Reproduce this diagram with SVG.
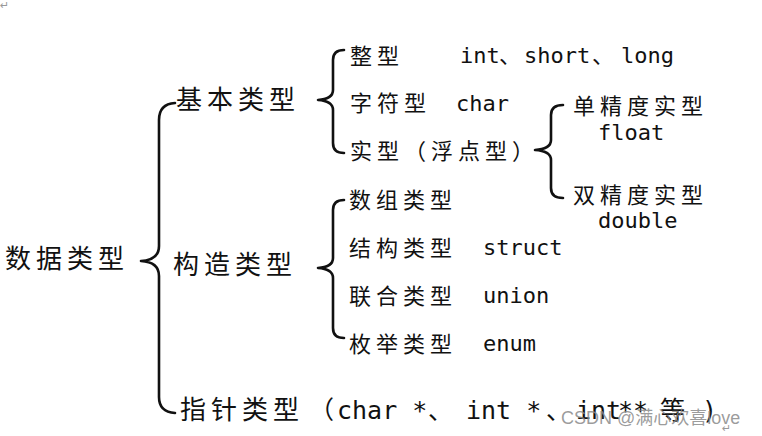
<svg xmlns="http://www.w3.org/2000/svg" width="762" height="436" viewBox="0 0 762 436">
<style>
.cn1{font-family:"Noto Sans CJK SC","Noto Sans",sans-serif;font-size:26px;letter-spacing:5px;fill:#111}
.cn2{font-family:"Noto Sans CJK SC","Noto Sans",sans-serif;font-size:22px;letter-spacing:5px;fill:#111}
.cnp{font-family:"Noto Sans CJK SC",sans-serif;font-size:22px;fill:#111}
.mono{font-family:"DejaVu Sans Mono","Noto Sans CJK SC",monospace;font-size:22px;fill:#111}
.mono25{font-family:"DejaVu Sans Mono","Noto Sans CJK SC",monospace;font-size:25px;fill:#111}
.cnb{font-family:"Noto Sans CJK SC",sans-serif;font-size:25px;fill:#111}
.brace{fill:none;stroke:#111;stroke-width:2.6;stroke-linecap:round;stroke-linejoin:round}
.mark{font-family:"DejaVu Sans",sans-serif;font-size:11px;fill:#999}
.wm{font-family:"Liberation Sans","Noto Sans CJK SC",sans-serif;font-size:18px;fill:#8a8a8a;fill-opacity:0.85}
</style>
<text class="mark" x="0" y="9">↵</text>
<g id="connectors">
<path class="brace" stroke-width="3" d="M175,103 Q159,104 159,120 L159,246 Q159,260 141,261 Q159,262 159,276 L159,397 Q159,412 175,413"/>
<path class="brace" d="M344,50 Q333,50 333,60 L333,90 Q333,99 318,100 Q333,101 333,110 L333,143 Q333,153 344,153"/>
<path class="brace" d="M563,105 Q551,105 551,115 L551,140 Q551,149 535,150 Q551,151 551,160 L551,188 Q551,198 563,198"/>
<path class="brace" d="M344,200 Q333,200 333,210 L333,258 Q333,267 318,268 Q333,269 333,278 L333,328 Q333,338 344,338"/>
</g>
<g id="root"><text class="cn1" x="5" y="268">数据类型</text></g>
<g id="basic"><text class="cn1" x="176" y="109">基本类型</text></g>
<g id="construct"><text class="cn1" x="173" y="274">构造类型</text></g>
<g id="pointer">
<text class="cn1" x="180" y="419">指针类型</text>
<text class="cnb" x="309" y="419">（</text>
<text class="mono25" x="337" y="419">char *</text>
<text class="cnb" x="428" y="419">、</text>
<text class="mono25" x="466" y="419">int *</text>
<text class="cnb" x="546" y="419">、</text>
<text class="mono25" x="576" y="419">int</text>
<text class="mono25" x="618" y="419">**</text>
<text class="cnb" x="660" y="419">等</text>
<text class="mono25" x="702" y="419">)</text>
</g>
<g id="integer">
<text class="cn2" x="350" y="64">整型</text>
<text class="mono" x="460" y="63">int</text>
<text class="cnp" x="499" y="63">、</text>
<text class="mono" x="524" y="63">short</text>
<text class="cnp" x="592" y="63">、</text>
<text class="mono" x="621" y="63">long</text>
</g>
<g id="char">
<text class="cn2" x="350" y="111">字符型</text>
<text class="mono" x="456" y="111">char</text>
</g>
<g id="real"><text class="cn2" x="350" y="159">实型（浮点型）</text></g>
<g id="float">
<text class="cn2" x="573" y="114">单精度实型</text>
<text class="mono" x="598" y="140">float</text>
</g>
<g id="double">
<text class="cn2" x="573" y="203">双精度实型</text>
<text class="mono" x="598" y="228">double</text>
</g>
<g id="array"><text class="cn2" x="349" y="208">数组类型</text></g>
<g id="struct">
<text class="cn2" x="349" y="256">结构类型</text>
<text class="mono" x="483" y="255">struct</text>
</g>
<g id="union">
<text class="cn2" x="349" y="304">联合类型</text>
<text class="mono" x="483" y="303">union</text>
</g>
<g id="enum">
<text class="cn2" x="349" y="352">枚举类型</text>
<text class="mono" x="483" y="351">enum</text>
</g>
<text class="wm" x="561" y="424">CSDN @满心欢喜love</text>
<text class="mark" x="722" y="432">↵</text>
</svg>
